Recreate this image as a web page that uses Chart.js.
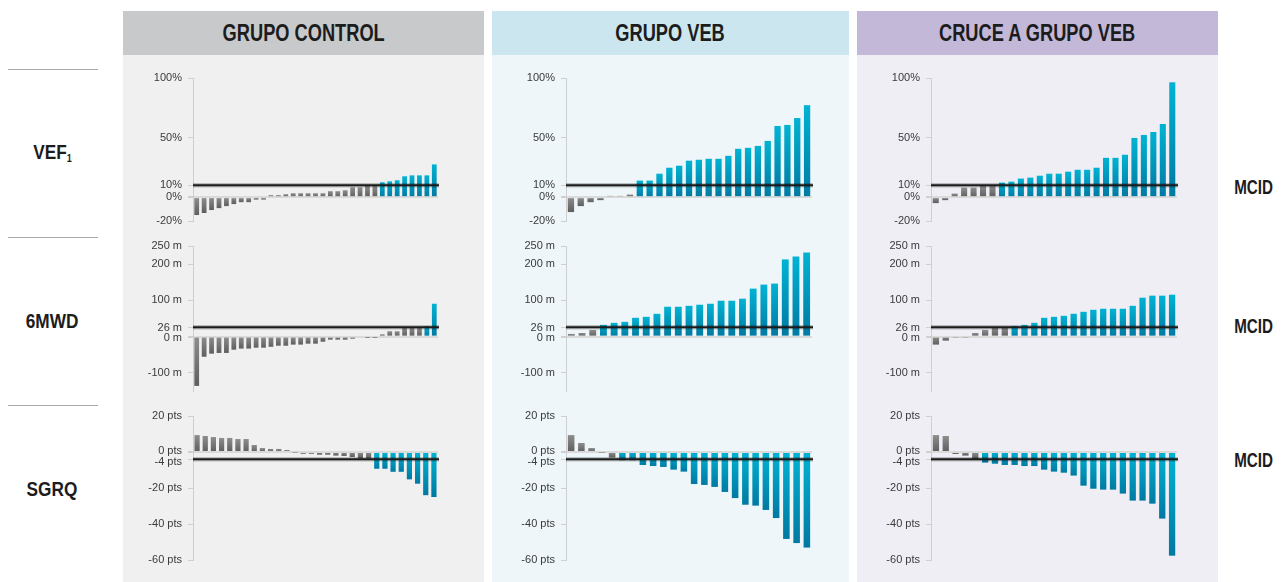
<!DOCTYPE html>
<html>
<head>
<meta charset="utf-8">
<script src="https://cdn.jsdelivr.net/npm/chart.js@4.4.1/dist/chart.umd.min.js"></script>
<style>
  body { margin: 0; width: 1284px; height: 582px; background: #fff; position: relative; overflow: hidden; }
  .cond { font-family: "Liberation Sans", Arial, sans-serif; font-weight: bold; color: #1c1c1c; }
  .cond span { display: inline-block; transform: scaleX(0.76); transform-origin: center; white-space: nowrap; }
  .panel { position: absolute; top: 11px; height: 571px; }
  .head { height: 44px; line-height: 44px; text-align: center; font-size: 24px; }
  .rowlabel { position: absolute; font-size: 21px; text-align: center; width: 104px; left: 0; }
  .rowlabel span { transform: scaleX(0.82); }
  .rowlabel sub { font-size: 11px; vertical-align: -3px; }
  .sep { position: absolute; left: 8px; width: 90px; height: 1px; background: #a8a8a8; }
  .mcid { position: absolute; left: 1222px; width: 64px; text-align: center; font-size: 20px; }
  canvas { position: absolute; }
</style>
</head>
<body>
<div class="panel" style="left:123px;width:361px;background:#f0f0f0"><div class="head cond" style="background:#c8c9cb"><span>GRUPO CONTROL</span></div></div>
<div class="panel" style="left:492px;width:357px;background:#eef6f9"><div class="head cond" style="background:#cbe6ee"><span>GRUPO VEB</span></div></div>
<div class="panel" style="left:857px;width:361px;background:#efeef5"><div class="head cond" style="background:#c3b8d8"><span>CRUCE A GRUPO VEB</span></div></div>

<div class="sep" style="top:69px"></div>
<div class="sep" style="top:237px"></div>
<div class="sep" style="top:405px"></div>
<div class="rowlabel cond" style="top:140px"><span>VEF<sub>1</sub></span></div>
<div class="rowlabel cond" style="top:309px"><span>6MWD</span></div>
<div class="rowlabel cond" style="top:477px"><span>SGRQ</span></div>
<div class="mcid cond" style="top:176px"><span>MCID</span></div>
<div class="mcid cond" style="top:315px"><span>MCID</span></div>
<div class="mcid cond" style="top:449px"><span>MCID</span></div>

<canvas id="c00" width="307" height="158" style="left:133px;top:70px"></canvas>
<canvas id="c01" width="308" height="158" style="left:506px;top:70px"></canvas>
<canvas id="c02" width="308" height="158" style="left:871px;top:70px"></canvas>
<canvas id="c10" width="307" height="160" style="left:133px;top:239px"></canvas>
<canvas id="c11" width="308" height="160" style="left:506px;top:239px"></canvas>
<canvas id="c12" width="308" height="160" style="left:871px;top:239px"></canvas>
<canvas id="c20" width="307" height="160" style="left:133px;top:408px"></canvas>
<canvas id="c21" width="308" height="160" style="left:506px;top:408px"></canvas>
<canvas id="c22" width="308" height="160" style="left:871px;top:408px"></canvas>

<script>
// VEF1 change (%)
const vefControl = [-15, -13.3, -10.8, -9.2, -7.5, -5.8, -4.2, -4.2, -2, -2, 1.7, 1.7, 2.5, 3.3, 3.3, 3.3, 3.3, 3.3, 5, 5, 5.8, 8.3, 8.3, 9.8, 9.8, 12.5, 13.3, 14.2, 17.5, 18.3, 18.3, 18.3, 27.5];
const vefVeb = [-12.5, -7.5, -4.2, -2.5, 1.1, 1.1, 2.2, 13.9, 13.9, 19.7, 24.7, 26.4, 30.6, 31.4, 32.2, 32.2, 34.7, 40.6, 41.4, 43, 47.2, 59.7, 60.6, 66.4, 77.2];
const vefCruce = [-5, -2.5, 3, 8, 8, 9.7, 9.7, 12.2, 13, 15.6, 16.4, 18, 19.7, 19.7, 21.4, 23, 23, 24.7, 33, 33, 35.6, 49.7, 52.2, 54.7, 61.4, 96.4];

// 6MWD change (m)
const mwdControl = [-136, -55.5, -47, -45, -45, -36, -33, -33, -30.5, -30.5, -28, -25, -25, -22, -22, -19.4, -19.4, -14, -8.3, -8.3, -8.3, -5.5, -2.8, -1, -1, 6.5, 14.8, 14.8, 25, 25, 25, 28.7, 90.7];
const mwdVeb = [7.4, 10, 18.5, 32.4, 38, 40.7, 51.9, 54.6, 63, 82.4, 82.4, 85, 88, 90.7, 99, 99, 104.6, 132.4, 143.5, 146.3, 213, 221, 232];
const mwdCruce = [-22, -11, -2, -2, 10, 18.5, 25.5, 25.5, 29.6, 32.4, 38, 51.9, 54.6, 57.4, 63, 68.5, 74, 76.9, 76.9, 76.9, 85, 107.4, 113, 113, 115.7];

// SGRQ change (pts)
const sgrqControl = [9.4, 8.9, 8.3, 7.8, 7.8, 7.2, 7.2, 3.9, 2.2, 1.7, 1.7, 1.1, -0.3, -1, -1, -1.5, -1.5, -2, -2.2, -2.8, -3.6, -3.6, -9.3, -9.3, -11, -11, -15.2, -17.6, -24, -25];
const sgrqVeb = [9.4, 5, 2.2, -0.3, -3.1, -4.6, -4.6, -7.2, -7.8, -8.3, -9.8, -10.9, -17.8, -18.3, -19.4, -22.2, -25.6, -29.3, -29.8, -32.2, -36.7, -48.3, -50.6, -53.1];
const sgrqCruce = [9.4, 8.9, -1.1, -2, -3.9, -5.9, -6.5, -7.2, -7.2, -7.8, -7.8, -9.8, -10.9, -11.5, -13.1, -18.7, -20.4, -20.9, -20.9, -23.1, -27, -27, -28.7, -37, -57.6];

const mcidValues = [10, 26, -4];
const vefTicks = [100, 50, 10, 0, -20];
const mwdTicks = [250, 200, 100, 26, 0, -100];
const sgrqTicks = [20, 0, -4, -20, -40, -60];
const tickUnits = ['%', ' m', ' pts'];

const rows = [
  { series: [vefControl, vefVeb, vefCruce], ticks: vefTicks, min: -20, max: 100, pad: [8, 7], nudge: {} },
  { series: [mwdControl, mwdVeb, mwdCruce], ticks: mwdTicks, min: -150, max: 250, pad: [7, 8], nudge: { 26: 1, 0: 1 } },
  { series: [sgrqControl, sgrqVeb, sgrqCruce], ticks: sgrqTicks, min: -60, max: 20, pad: [8, 8], nudge: { 0: -1, '-4': 3 } }
];

const mcidLine = {
  id: 'mcidLine',
  afterDatasetsDraw(chart, args, opts) {
    const ctx = chart.ctx;
    const y = chart.scales.y.getPixelForValue(opts.value);
    const { left, right } = chart.chartArea;
    ctx.save();
    ctx.strokeStyle = 'rgba(0,0,0,0.22)';
    ctx.lineWidth = 4.5;
    ctx.beginPath(); ctx.moveTo(left, y); ctx.lineTo(right + 1, y); ctx.stroke();
    ctx.strokeStyle = '#1b1b1b';
    ctx.lineWidth = 2;
    ctx.beginPath(); ctx.moveTo(left, y); ctx.lineTo(right + 1, y); ctx.stroke();
    ctx.restore();
  }
};

const tickLabels = {
  id: 'tickLabels',
  afterDraw(chart, args, opts) {
    const ctx = chart.ctx;
    const scale = chart.scales.y;
    ctx.save();
    ctx.font = '11px "Liberation Sans", Arial, sans-serif';
    ctx.fillStyle = '#3a3a3a';
    ctx.textAlign = 'right';
    ctx.textBaseline = 'middle';
    opts.ticks.forEach(v => {
      const y = scale.getPixelForValue(v) + (opts.nudge[v] || 0);
      ctx.fillText(v + opts.unit, chart.chartArea.left - 11, y);
    });
    ctx.restore();
  }
};

function isGood(row, v) {
  return row === 2 ? v < mcidValues[2] : v > mcidValues[row];
}

function barColor(row) {
  return c => {
    const good = isGood(row, c.raw);
    const chart = c.chart;
    if (!chart.chartArea || !chart.scales.y) return good ? '#0099bd' : '#777777';
    const y = chart.scales.y;
    const top = y.getPixelForValue(Math.max(c.raw, 0));
    const bot = y.getPixelForValue(Math.min(c.raw, 0));
    const g = chart.ctx.createLinearGradient(0, top, 0, bot + 0.01);
    if (good) {
      g.addColorStop(0, '#00b3d3');
      g.addColorStop(1, '#0079a2');
    } else {
      g.addColorStop(0, '#8e8e8e');
      g.addColorStop(1, '#5e5e5e');
    }
    return g;
  };
}

rows.forEach((row, r) => {
  row.series.forEach((values, col) => {
    new Chart(document.getElementById('c' + r + col), {
      type: 'bar',
      data: {
        labels: values.map((v, i) => i + 1),
        datasets: [{
          data: values,
          backgroundColor: barColor(r),
          barPercentage: 0.64,
          categoryPercentage: 1
        }]
      },
      options: {
        responsive: false,
        animation: false,
        layout: { padding: { top: row.pad[0], bottom: row.pad[1], left: 0, right: 2 } },
        plugins: {
          legend: { display: false },
          tooltip: { enabled: false },
          mcidLine: { value: mcidValues[r] },
          tickLabels: { ticks: row.ticks, unit: tickUnits[r], nudge: row.nudge }
        },
        scales: {
          x: { display: false },
          y: {
            min: row.min,
            max: row.max,
            afterBuildTicks: s => { s.ticks = row.ticks.map(v => ({ value: v })); },
            afterFit: s => { s.width = 60; },
            ticks: { display: false },
            border: { display: true, color: '#cfcfcf', width: 1 },
            grid: {
              drawOnChartArea: true,
              drawTicks: true,
              tickLength: 5,
              tickColor: '#cfcfcf',
              color: c => (c.tick && c.tick.value === 0) ? '#dadada' : 'rgba(0,0,0,0)',
              lineWidth: c => (c.tick && c.tick.value === 0) ? 2 : 1
            }
          }
        }
      },
      plugins: [mcidLine, tickLabels]
    });
  });
});
</script>
</body>
</html>
